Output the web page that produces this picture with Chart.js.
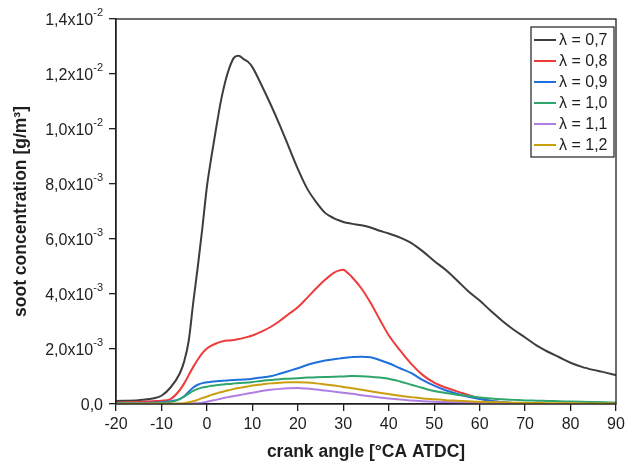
<!DOCTYPE html>
<html>
<head>
<meta charset="utf-8">
<script src="https://cdn.jsdelivr.net/npm/chart.js@4.4.0/dist/chart.umd.min.js"></script>
<style>
  html, body { margin: 0; padding: 0; background: #fff; }
  #wrap { width: 628px; height: 468px; }
</style>
</head>
<body>
<div id="wrap"><canvas id="soot" width="628" height="468"></canvas></div>
<script>
// crank angle [°CA ATDC]
const angle = [
  -20, -15, -12, -10, -8, -6, -5, -4, -3, -2, -1, 0, 1, 2, 3, 4, 5, 6, 7, 8, 9, 10,
  12, 14, 16, 18, 20, 22, 24, 26, 28, 29, 30, 31, 32, 34, 36, 38, 40,
  42.5, 45, 47.5, 50, 52.5, 55, 57.5, 60, 62.5, 65, 67.5, 70, 72.5, 75, 77.5, 80, 82.5, 85, 87.5, 90
];

// soot concentration, in 10^-3 g/m³
const lambda07 = [
  0.11, 0.14, 0.2, 0.3, 0.6, 1.1, 1.55, 2.3, 3.7, 5.0, 6.4, 7.9, 9.0, 10.0, 10.95, 11.7, 12.25, 12.6, 12.66, 12.55, 12.45, 12.25,
  11.6, 10.9, 10.15, 9.35, 8.55, 7.85, 7.35, 6.95, 6.75, 6.68, 6.62, 6.58, 6.55, 6.5, 6.42, 6.3, 6.2,
  6.05, 5.85, 5.55, 5.2, 4.88, 4.5, 4.1, 3.76, 3.38, 3.02, 2.7, 2.42, 2.13, 1.9, 1.7, 1.5, 1.35, 1.24, 1.15, 1.05
];
const lambda08 = [
  0.05, 0.07, 0.1, 0.12, 0.18, 0.5, 0.75, 1.05, 1.35, 1.62, 1.85, 2.02, 2.12, 2.2, 2.26, 2.3, 2.31, 2.33, 2.36, 2.4, 2.44, 2.49,
  2.63, 2.8, 3.02, 3.27, 3.52, 3.85, 4.2, 4.52, 4.78, 4.85, 4.88, 4.76, 4.6, 4.2, 3.68, 3.08, 2.5,
  1.95, 1.45, 1.05, 0.78, 0.6, 0.46, 0.33, 0.2, 0.1, 0.04, 0.02, 0.0, null, null, null, null, null, null, null, null
];
const lambda09 = [
  0.03, 0.04, 0.05, 0.06, 0.1, 0.18, 0.28, 0.45, 0.6, 0.7, 0.76, 0.79, 0.81, 0.83, 0.84, 0.85, 0.86, 0.87, 0.88, 0.89, 0.9, 0.92,
  0.96, 1.01, 1.1, 1.2, 1.3, 1.42, 1.51, 1.58, 1.63, 1.65, 1.67, 1.69, 1.71, 1.72, 1.7, 1.6, 1.48,
  1.3, 1.12, 0.87, 0.67, 0.5, 0.37, 0.26, 0.18, 0.12, 0.07, 0.04, 0.02, null, null, null, null, null, null, null, null
];
const lambda10 = [
  0.02, 0.03, 0.04, 0.05, 0.07, 0.18, 0.27, 0.38, 0.48, 0.55, 0.6, 0.63, 0.66, 0.68, 0.7, 0.72, 0.73, 0.75, 0.76, 0.77, 0.78, 0.8,
  0.84, 0.87, 0.9, 0.92, 0.94, 0.96, 0.97, 0.98, 0.99, 1.0, 1.0, 1.01, 1.02, 1.01, 0.99, 0.96, 0.92,
  0.82, 0.7, 0.58, 0.47, 0.4, 0.34, 0.29, 0.24, 0.2, 0.17, 0.15, 0.13, 0.12, 0.11, 0.1, 0.09, 0.08, 0.07, 0.06, 0.05
];
const lambda11 = [
  0.01, 0.01, 0.01, 0.01, 0.01, 0.01, 0.01, 0.01, 0.02, 0.03, 0.05, 0.08, 0.12, 0.15, 0.19, 0.23, 0.26, 0.29, 0.32, 0.35, 0.38, 0.41,
  0.47, 0.52, 0.55, 0.57, 0.58, 0.56, 0.53, 0.49, 0.45, 0.43, 0.41, 0.39, 0.37, 0.32, 0.28, 0.24, 0.2,
  0.16, 0.13, 0.1, 0.08, 0.07, 0.06, 0.05, 0.04, 0.03, 0.03, 0.02, 0.02, 0.02, null, null, null, null, null, null, null
];
const lambda12 = [
  0.01, 0.01, 0.01, 0.01, 0.01, 0.02, 0.03, 0.06, 0.1, 0.15, 0.22, 0.27, 0.33, 0.38, 0.43, 0.47, 0.51, 0.55, 0.58, 0.61, 0.64, 0.67,
  0.71, 0.75, 0.77, 0.79, 0.79, 0.78, 0.75, 0.71, 0.67, 0.65, 0.62, 0.6, 0.57, 0.52, 0.46, 0.41, 0.36,
  0.3, 0.25, 0.2, 0.17, 0.14, 0.12, 0.1, 0.08, 0.07, 0.06, 0.05, 0.04, 0.04, 0.03, 0.03, 0.03, 0.02, 0.02, 0.02, 0.02
];

const seriesLabels = ['λ = 0,7', 'λ = 0,8', 'λ = 0,9', 'λ = 1,0', 'λ = 1,1', 'λ = 1,2'];
const seriesColors = ['#3d3d3d', '#ee3b3b', '#1f6fdd', '#2fa56c', '#b07ee2', '#c99f0f'];
const seriesValues = [lambda07, lambda08, lambda09, lambda10, lambda11, lambda12];

const xTicks = [-20, -10, 0, 10, 20, 30, 40, 50, 60, 70, 80, 90];
const yTicks = [0, 2, 4, 6, 8, 10, 12, 14];
const yTickMantissa = ['0,0', '2,0x10', '4,0x10', '6,0x10', '8,0x10', '1,0x10', '1,2x10', '1,4x10'];
const yTickExponent = ['', '-3', '-3', '-3', '-3', '-2', '-2', '-2'];

const FONT = '"Liberation Sans", Arial, sans-serif';
const INK = '#1e1e1e';

const points = (values) => angle.map((a, i) => ({ x: a, y: values[i] }));

// axis labels, titles, plot frame and boxed legend
const decorations = {
  id: 'decorations',
  afterDraw(chart) {
    const { ctx, chartArea: a, scales: { x, y } } = chart;
    ctx.save();
    ctx.strokeStyle = INK;
    ctx.lineWidth = 1.3;
    ctx.strokeRect(a.left, a.top, a.right - a.left, a.bottom - a.top);

    ctx.fillStyle = INK;
    ctx.textBaseline = 'middle';

    // y tick labels with raised exponent
    yTicks.forEach((v, i) => {
      const py = y.getPixelForValue(v);
      const right = a.left - 13;
      const exp = yTickExponent[i];
      ctx.textAlign = 'right';
      ctx.font = '11px ' + FONT;
      const ew = exp ? ctx.measureText(exp).width : 0;
      if (exp) ctx.fillText(exp, right, py - 6);
      ctx.font = '16px ' + FONT;
      ctx.fillText(yTickMantissa[i], right - ew, py + 2);
    });

    // x tick labels
    ctx.textAlign = 'center';
    ctx.font = '16px ' + FONT;
    xTicks.forEach(v => ctx.fillText(String(v), x.getPixelForValue(v), a.bottom + 21));

    // axis titles
    ctx.font = 'bold 17.5px ' + FONT;
    ctx.fillText('crank angle [°CA ATDC]', (a.left + a.right) / 2, 452);
    ctx.save();
    ctx.translate(21, (a.top + a.bottom) / 2);
    ctx.rotate(-Math.PI / 2);
    ctx.fillText('soot concentration [g/m³]', 0, 0);
    ctx.restore();

    // legend
    const lx = 531, ly = 27, lw = 83, lh = 130;
    ctx.fillStyle = '#fff';
    ctx.fillRect(lx, ly, lw, lh);
    ctx.strokeStyle = INK;
    ctx.lineWidth = 1.2;
    ctx.strokeRect(lx, ly, lw, lh);
    ctx.textAlign = 'left';
    ctx.font = '16px ' + FONT;
    seriesLabels.forEach((label, i) => {
      const ry = ly + 13 + i * 21;
      ctx.strokeStyle = seriesColors[i];
      ctx.lineWidth = 2;
      ctx.beginPath();
      ctx.moveTo(lx + 3, ry);
      ctx.lineTo(lx + 25, ry);
      ctx.stroke();
      ctx.fillStyle = INK;
      ctx.fillText(label, lx + 28, ry + 1);
    });
    ctx.restore();
  }
};

new Chart(document.getElementById('soot'), {
  type: 'line',
  data: {
    datasets: seriesLabels.map((label, i) => ({
      label,
      data: points(seriesValues[i]),
      borderColor: seriesColors[i],
      backgroundColor: seriesColors[i],
      borderWidth: 2,
      pointRadius: 0,
      cubicInterpolationMode: 'monotone',
      fill: false,
      order: seriesLabels.length - 1 - i,
    })),
  },
  options: {
    responsive: false,
    animation: false,
    devicePixelRatio: 1,
    layout: { padding: { left: 109, right: 12, top: 19, bottom: 57 } },
    plugins: { legend: { display: false }, tooltip: { enabled: false } },
    scales: {
      x: {
        type: 'linear',
        min: -20,
        max: 90,
        afterBuildTicks: (axis) => { axis.ticks = xTicks.map(value => ({ value })); },
        ticks: { display: false },
        grid: { drawOnChartArea: false, drawTicks: true, tickLength: 7, color: INK, lineWidth: 1.3 },
        border: { color: INK, width: 1.3 },
      },
      y: {
        min: 0,
        max: 14,
        afterBuildTicks: (axis) => { axis.ticks = yTicks.map(value => ({ value })); },
        ticks: { display: false },
        grid: { drawOnChartArea: false, drawTicks: true, tickLength: 7, color: INK, lineWidth: 1.3 },
        border: { color: INK, width: 1.3 },
      },
    },
  },
  plugins: [decorations],
});
</script>
</body>
</html>
